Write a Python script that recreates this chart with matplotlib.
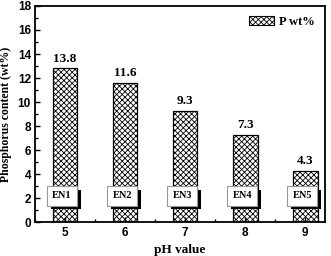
import matplotlib
matplotlib.use("Agg")
import matplotlib.pyplot as plt
import matplotlib.patheffects as pe
from matplotlib.ticker import MultipleLocator
from matplotlib.patches import Patch

ph = [5, 6, 7, 8, 9]
p_content = [12.8, 11.6, 9.3, 7.3, 4.3]
value_labels = ["13.8", "11.6", "9.3", "7.3", "4.3"]
sample_names = ["EN1", "EN2", "EN3", "EN4", "EN5"]

plt.rcParams['hatch.linewidth'] = 0.6
serif = "Liberation Serif"
sans = "Liberation Sans"

fig = plt.figure(figsize=(3.31, 2.56), dpi=100)
ax = fig.add_axes([0.106, 0.131, 0.876, 0.846])

bars = ax.bar(ph, p_content, width=0.41, color="white", edgecolor="black",
              hatch="xxxxxx", linewidth=0.9)

for x, h, lab in zip(ph, p_content, value_labels):
    ax.annotate(lab, (x, h), xytext=(0, 2.5), textcoords="offset points",
                ha="center", va="bottom", fontfamily=serif,
                fontweight="bold", fontsize=9.5)

for x, name in zip(ph, sample_names):
    t = ax.text(x - 0.05, 2.2, name, ha="center", va="center",
                fontfamily=serif, fontweight="bold", fontsize=7.5,
                bbox=dict(boxstyle="square,pad=0.5", facecolor="white",
                          edgecolor="#999999", linewidth=0.8))
    t.get_bbox_patch().set_path_effects([
        pe.SimplePatchShadow(offset=(3, -2.5), shadow_rgbFace="black", alpha=1.0),
        pe.Normal()])

ax.set_xlim(4.5, 9.33)
ax.set_ylim(0, 18)
ax.xaxis.set_major_locator(MultipleLocator(1))
ax.xaxis.set_minor_locator(MultipleLocator(0.5))
ax.yaxis.set_major_locator(MultipleLocator(2))
ax.yaxis.set_minor_locator(MultipleLocator(1))
ax.tick_params(which="both", direction="in", top=False, right=False, width=1)
ax.tick_params(which="major", length=3.5, pad=3)
ax.tick_params(which="minor", length=2)
for lab in ax.get_xticklabels() + ax.get_yticklabels():
    lab.set_fontfamily(sans)
    lab.set_fontweight("bold")
    lab.set_fontsize(8.5)
for s in ax.spines.values():
    s.set_linewidth(1.3)

ax.set_xlabel("pH value", fontfamily=serif, fontweight="bold", fontsize=9.5, labelpad=4)
ax.set_ylabel("Phosphorus content (wt%)", fontfamily=serif, fontweight="bold",
              fontsize=8.5, labelpad=4)

handle = Patch(facecolor="white", edgecolor="black", hatch="xxxxxx", linewidth=0.8)
leg = ax.legend([handle], ["P wt%"], loc="upper right", frameon=False,
                prop=dict(family=serif, weight="bold", size=9),
                handlelength=2.0, handleheight=0.8, handletextpad=0.4,
                borderaxespad=0.4)

fig.savefig("out.png", dpi=100)
